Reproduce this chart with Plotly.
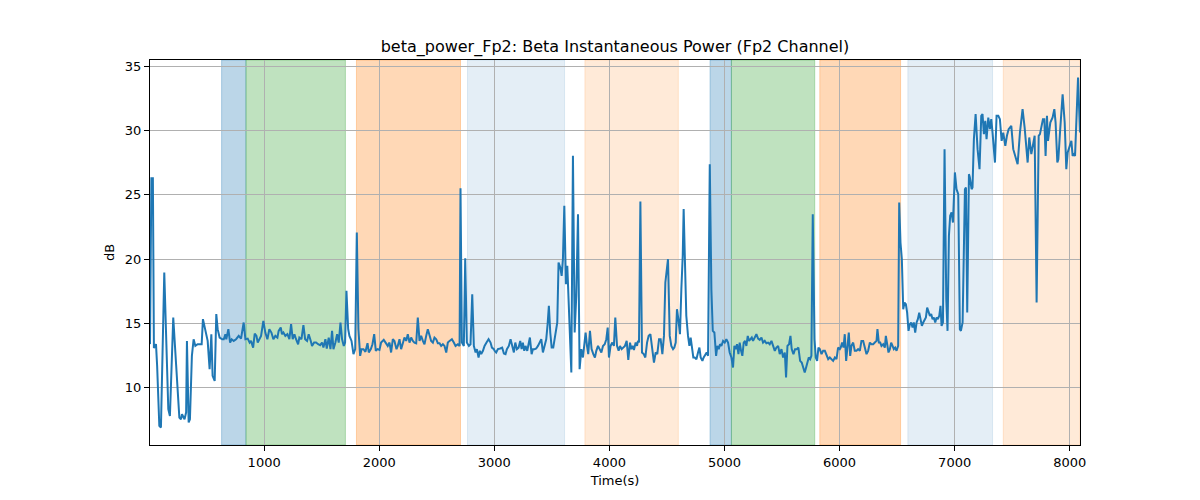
import plotly.graph_objects as go

# ---------------- data ----------------
time_s = [
    8, 20, 33, 42, 60, 70, 89, 103, 132, 167, 181, 210, 235, 263, 277, 286, 308, 322, 329, 344,
    355, 372, 387, 402, 422, 445, 457, 468, 489, 509, 526, 541, 552, 570, 584, 596, 613, 636, 649, 663,
    671, 689, 704, 718, 735, 756, 779, 799, 822, 837, 857, 874, 886, 904, 918, 933, 944,
    958, 973, 993, 1010, 1028, 1045, 1063, 1080, 1097, 1115, 1126, 1144, 1155, 1167, 1184, 1202, 1219, 1234, 1248, 1263,
    1277, 1295, 1306, 1324, 1341, 1356, 1373, 1387, 1405, 1416, 1434, 1451, 1469, 1486, 1503, 1515, 1532, 1544, 1561, 1576,
    1590, 1602, 1619, 1634, 1648, 1663, 1677, 1692, 1703, 1715, 1730, 1741, 1759, 1776, 1791, 1805, 1819, 1834, 1846, 1863,
    1880, 1898, 1909, 1927, 1941, 1956, 1970, 1985, 2002,
    2016, 2039, 2057, 2074, 2089, 2103, 2118, 2132, 2150, 2161, 2176, 2190, 2205, 2219, 2234, 2248, 2263, 2277, 2292, 2306,
    2321, 2335, 2350, 2364, 2379, 2393, 2408, 2422, 2437, 2451, 2466, 2480, 2495, 2509, 2524, 2538, 2553, 2567, 2582, 2596,
    2611, 2631, 2648, 2663, 2683, 2698, 2706, 2718, 2735, 2747, 2761, 2779, 2793, 2808, 2822, 2837, 2848, 2863, 2874, 2886,
    2901, 2915, 2932, 2950, 2967, 2979, 2996,
    3002, 3016, 3031, 3051, 3068, 3083, 3097, 3109, 3126, 3141, 3155, 3170, 3182, 3196, 3211, 3225, 3237, 3248, 3260, 3271,
    3286, 3297, 3309, 3324, 3335, 3350, 3364, 3379, 3393, 3408, 3422, 3437, 3451, 3463, 3474, 3486, 3498, 3512, 3527, 3547,
    3558, 3573, 3585, 3596, 3608, 3622, 3634, 3645, 3657, 3669, 3683, 3698, 3712, 3727, 3741, 3756, 3770, 3785, 3793, 3805,
    3816, 3831, 3845, 3860, 3874, 3886, 3901, 3915, 3930, 3944, 3959, 3973, 3985, 3996,
    4010, 4025, 4039, 4051, 4066, 4080, 4092, 4106, 4121, 4135, 4150, 4164, 4179, 4190, 4202, 4213, 4228, 4240, 4248, 4257,
    4269, 4283, 4298, 4312, 4327, 4341, 4356, 4370, 4387, 4402, 4416, 4431, 4445, 4460, 4474, 4486, 4497, 4509, 4524, 4538,
    4553, 4564, 4576, 4587, 4599, 4613, 4625, 4637, 4645, 4657, 4668, 4683, 4695, 4706, 4718, 4729, 4741, 4756, 4770, 4782,
    4793, 4808, 4819, 4834, 4845, 4857, 4872, 4886, 4898, 4912, 4927, 4938, 4950, 4961, 4973, 4988, 5002,
    5016, 5031, 5045, 5060, 5074, 5086, 5097, 5109, 5121, 5132, 5144, 5155, 5167, 5179, 5190, 5202, 5213, 5225, 5237, 5248,
    5263, 5277, 5292, 5306, 5321, 5335, 5350, 5364, 5379, 5393, 5408, 5422, 5437, 5451, 5466, 5480, 5495, 5509, 5524, 5535,
    5547, 5561, 5573, 5584, 5599, 5613, 5628, 5642, 5657, 5671, 5686, 5697, 5709, 5721, 5732, 5744, 5755, 5767, 5782, 5793,
    5805, 5816, 5828, 5843, 5857, 5872, 5886, 5901, 5915, 5930, 5944, 5959, 5973, 5987, 6002,
    6010, 6022, 6034, 6045, 6057, 6068, 6080, 6092, 6103, 6118, 6132, 6147, 6161, 6176, 6190, 6205, 6219, 6234, 6248, 6263,
    6277, 6292, 6306, 6321, 6329, 6341, 6353, 6364, 6379, 6393, 6402, 6413, 6425, 6437, 6448, 6460, 6471, 6483, 6495, 6509,
    6518, 6529, 6541, 6553, 6564, 6576, 6587, 6599, 6611, 6622, 6634, 6645, 6657, 6669, 6680, 6692, 6703, 6715, 6727, 6738,
    6750, 6761, 6773, 6785, 6796, 6808, 6819, 6831, 6843, 6854, 6866, 6877, 6886, 6898, 6912, 6927, 6938, 6950, 6961, 6973,
    6985,
    7002, 7016, 7031, 7045, 7054, 7069, 7089, 7098, 7109, 7124, 7132, 7147, 7155, 7167, 7182, 7199, 7216, 7231, 7242, 7254,
    7266, 7277, 7292, 7306, 7318, 7329, 7350, 7364, 7379, 7393, 7408, 7422, 7440, 7454, 7469, 7492, 7509, 7547, 7567, 7590,
    7608, 7634, 7648, 7666, 7683, 7695, 7712, 7730, 7741, 7767, 7779, 7790, 7802, 7811, 7831, 7851, 7866, 7877, 7892, 7901,
    7915, 7938, 7956, 7970, 7982, 8002, 8014, 8025, 8037, 8046, 8072, 8089,
]

beta_power_db = [
    13.4, 26.3, 26.3, 13.1, 13.4, 11.7, 7.05, 6.92, 18.96, 8.34, 7.82, 15.47, 11.8, 7.69, 7.56, 7.95, 7.56, 8.1, 13.65, 7.31,
    7.56, 12.49, 13.78, 13.26, 13.39, 13.39, 13.39, 15.34, 14.56, 13.65, 11.45, 14.17, 10.93, 10.54, 15.73, 14.56, 13.91, 13.78, 13.78, 14.17,
    13.78, 14.56, 13.52, 13.78, 13.65, 13.78, 14.04, 13.83, 15.08, 13.78, 13.83, 13.52, 13.65, 13.13, 14.22, 14.04, 13.52,
    13.78, 14.04, 15.21, 14.30, 13.78, 14.56, 14.30, 13.78, 14.04, 13.91, 14.43, 14.69, 14.17, 14.30, 14.04, 14.17, 13.78, 14.95, 13.78, 14.17,
    13.78, 13.39, 13.91, 13.78, 14.87, 13.78, 13.65, 14.17, 13.65, 13.26, 13.52, 13.52, 13.39, 13.32, 13.52, 13.13, 13.78, 13.06, 13.91, 13.01,
    14.43, 13.01, 13.52, 14.17, 13.52, 15.08, 13.78, 13.26, 13.52, 17.54, 14.56, 14.04, 13.65, 12.62, 13.01, 22.07, 14.56, 12.49, 13.01, 13.01,
    12.80, 13.47, 12.75, 13.01, 13.39, 14.17, 12.88, 13.01, 12.95,
    13.52, 13.73, 13.52, 13.26, 13.52, 12.75, 13.78, 13.65, 13.01, 13.26, 13.78, 13.01, 13.47, 13.91, 13.65, 14.17, 13.52, 13.91, 13.65, 13.52,
    13.47, 15.47, 13.65, 14.04, 13.65, 13.39, 14.04, 14.56, 14.09, 13.65, 13.52, 13.91, 13.78, 13.47, 13.47, 13.26, 13.39, 13.26, 12.75, 13.52,
    13.65, 13.78, 13.52, 13.26, 13.39, 13.26, 25.52, 13.52, 13.26, 20.08, 13.52, 13.26, 13.39, 17.28, 13.26, 12.75, 13.01, 12.36, 12.88, 12.62,
    12.88, 13.26, 13.52, 13.78, 13.52, 13.13, 13.01,
    12.88, 12.75, 13.01, 13.06, 13.13, 12.67, 12.62, 13.01, 13.26, 13.78, 13.26, 12.75, 13.52, 13.01, 13.13, 13.65, 13.01, 13.52, 12.88, 13.26,
    12.88, 13.26, 13.91, 12.62, 13.01, 13.01, 13.06, 13.26, 13.52, 13.78, 12.75, 13.26, 13.78, 14.95, 16.37, 14.30, 13.13, 13.13, 14.04, 15.08,
    19.74, 19.35, 18.70, 20.00, 24.15, 18.06, 19.48, 16.89, 13.01, 11.19, 28.03, 14.30, 17.15, 23.50, 11.45, 13.01, 12.36, 13.52, 14.30, 13.26,
    12.62, 14.43, 13.01, 12.62, 12.36, 12.88, 13.26, 13.01, 12.75, 13.26, 13.39, 13.78, 14.69, 12.36,
    13.26, 13.52, 13.26, 15.47, 13.26, 12.88, 13.26, 13.01, 13.13, 13.26, 13.65, 12.18, 13.52, 13.01, 13.26, 12.95, 13.52, 13.26, 13.65, 13.52,
    24.48, 12.75, 12.62, 12.36, 13.52, 14.04, 14.17, 13.01, 11.97, 12.75, 12.62, 13.78, 13.78, 12.62, 14.04, 18.19, 19.22, 20.00, 14.04, 13.26,
    13.01, 13.13, 13.52, 16.11, 15.34, 14.17, 17.67, 20.26, 23.89, 18.45, 15.60, 14.04, 13.26, 13.91, 13.01, 12.36, 12.36, 12.23, 12.75, 13.13,
    12.36, 12.10, 12.36, 12.62, 12.75, 12.49, 27.38, 17.67, 14.43, 14.30, 12.49, 13.26, 13.01, 13.39, 13.26, 13.65, 13.52,
    13.78, 13.52, 12.75, 12.36, 11.58, 13.26, 13.01, 13.39, 12.62, 13.52, 12.88, 12.49, 13.52, 13.65, 13.26, 14.04, 13.65, 13.78, 13.91, 13.65,
    13.91, 14.17, 13.83, 13.73, 13.91, 13.52, 13.65, 13.47, 13.52, 13.39, 13.65, 13.26, 12.88, 13.13, 13.26, 12.62, 13.01, 12.36, 12.75, 10.80,
    13.26, 13.39, 14.04, 13.01, 12.62, 13.01, 13.01, 13.13, 12.10, 11.97, 11.58, 11.19, 11.58, 11.97, 12.36, 12.23, 12.49, 23.50, 13.78, 12.36,
    12.10, 13.13, 13.01, 12.62, 12.88, 12.88, 12.49, 12.23, 12.36, 12.23, 12.10, 12.36, 12.23, 13.13, 13.01,
    13.13, 13.52, 13.13, 14.17, 12.10, 13.26, 14.30, 12.49, 13.26, 13.52, 12.88, 12.88, 13.01, 12.88, 13.65, 13.65, 13.13, 12.62, 12.88, 13.52,
    13.39, 13.39, 13.52, 13.65, 14.56, 13.52, 13.52, 13.26, 13.39, 13.13, 14.04, 13.39, 12.75, 13.01, 13.52, 13.26, 13.01, 13.13, 12.88, 13.26,
    24.40, 21.30, 20.00, 16.11, 16.63, 16.50, 15.85, 14.43, 14.95, 15.08, 14.69, 15.08, 14.30, 15.08, 15.34, 15.85, 15.34, 14.82, 15.08, 15.34,
    15.47, 16.24, 15.85, 15.60, 15.73, 15.34, 15.47, 15.08, 15.47, 15.34, 15.60, 16.37, 14.82, 15.08, 28.55, 16.89, 14.43, 21.81, 23.37, 23.63,
    22.85,
    26.74, 25.44, 25.05, 14.56, 14.43, 15.08, 25.44, 25.57, 15.85, 26.61, 26.35, 25.44, 25.57, 29.33, 31.27, 28.55, 27.00, 31.14, 31.27, 29.72,
    30.75, 29.33, 31.01, 30.10, 30.88, 29.84, 27.51, 31.14, 31.14, 30.88, 29.20, 29.84, 28.81, 29.59, 30.10, 30.36, 28.55, 27.38, 29.84, 31.66,
    30.23, 27.51, 29.46, 28.16, 29.07, 29.59, 16.63, 29.59, 29.72, 30.88, 30.88, 28.03, 31.14, 29.20, 30.62, 31.01, 31.66, 30.62, 27.51, 27.77,
    29.84, 32.82, 30.62, 27.00, 28.29, 28.94, 29.20, 28.03, 28.16, 28.03, 34.12, 29.84,
]

# annotated segments (start, end, kind)
seg_start = [630, 842, 1802, 2767, 3787, 4874, 5060, 5828, 6593, 7422]
seg_end = [842, 1706, 2706, 3610, 4599, 5060, 5784, 6530, 7329, 8089]
seg_kind = ["A", "B", "C", "D", "E", "A", "B", "C", "D", "E"]

# ---------------- styles ----------------
kind_fill = {
    "A": "rgba(31,119,180,0.3)",
    "B": "rgba(44,160,44,0.3)",
    "C": "rgba(255,127,14,0.3)",
    "D": "rgba(31,119,180,0.12)",
    "E": "rgba(255,127,14,0.16)",
}

fig = go.Figure()
fig.add_trace(go.Scatter(
    x=time_s, y=beta_power_db, mode="lines",
    line=dict(color="#1f77b4", width=2), showlegend=False,
))

for s, e, k in zip(seg_start, seg_end, seg_kind):
    fig.add_shape(type="rect", xref="x", yref="paper", x0=s, x1=e, y0=0, y1=1,
                  fillcolor=kind_fill[k], line=dict(color=kind_fill[k], width=1),
                  layer="below")

ymin, ymax = min(beta_power_db), max(beta_power_db)
pad = 0.05 * (ymax - ymin)

axis_common = dict(
    showline=True, linecolor="black", linewidth=1, mirror=True,
    ticks="outside", ticklen=5, tickwidth=1, tickcolor="black",
    showgrid=True, gridcolor="#b0b0b0", gridwidth=1, zeroline=False,
    tickfont=dict(size=13, color="black"),
)

fig.update_xaxes(range=[min(time_s), max(time_s)], dtick=1000, tick0=0,
                 title=dict(text="Time(s)", font=dict(size=13), standoff=7), **axis_common)
fig.update_yaxes(range=[ymin - pad, ymax + pad], dtick=5, tick0=0,
                 title=dict(text="dB", font=dict(size=13), standoff=7), **axis_common)

fig.update_layout(
    width=1200, height=500,
    margin=dict(l=142, r=128, t=52, b=63),
    plot_bgcolor="white", paper_bgcolor="white",
    font=dict(family="DejaVu Sans", size=13, color="black"),
    title=dict(text="beta_power_Fp2: Beta Instantaneous Power (Fp2 Channel)",
               x=0.5058, xanchor="center", y=0.924, yanchor="middle", yref="container",
               font=dict(size=16, color="black")),
    showlegend=False,
)

fig.write_html("out.html")
